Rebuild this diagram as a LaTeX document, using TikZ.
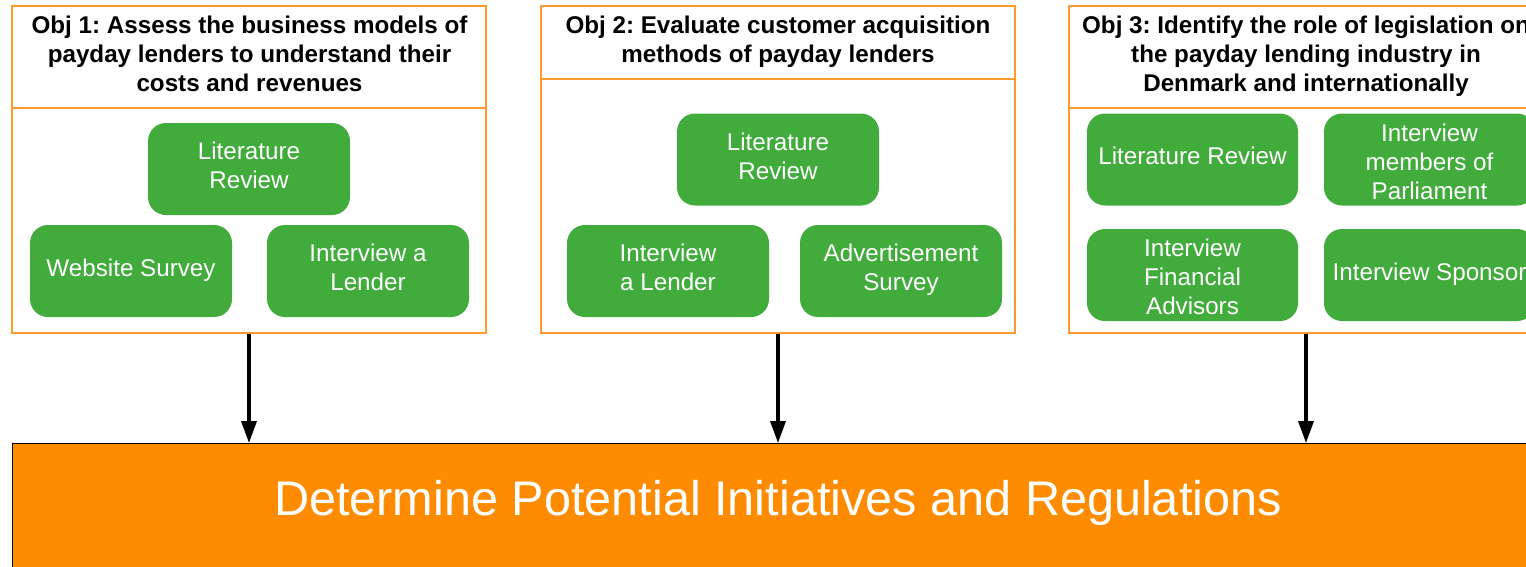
\documentclass[tikz,border=0pt]{standalone}
\usepackage{fontspec}
\setmainfont{Liberation Sans}
\frenchspacing
\usetikzlibrary{arrows.meta}
\definecolor{boxline}{HTML}{FF9A2E}
\definecolor{methodgreen}{HTML}{41AC3C}
\definecolor{goalorange}{HTML}{FF8C00}
\tikzset{
  objbox/.style={draw=boxline, line width=1.5pt, fill=white, rectangle, minimum width=474pt, minimum height=327pt, inner sep=0pt},
  objhead/.style={align=center, font=\bfseries\fontsize{24.2}{29}\selectfont, inner sep=0pt, anchor=base},
  method/.style={rectangle, rounded corners=18pt, fill=methodgreen, minimum height=92pt, inner sep=0pt},
  methodtext/.style={text=white, align=center, inner sep=0pt, anchor=base, font=\fontsize{24.2}{29}\selectfont},
  flow/.style={line width=3.5pt, -{Triangle[length=22pt,width=15pt]}},
}
\begin{document}
\begin{tikzpicture}[x=1pt,y=-1pt]
\useasboundingbox (0,0) rectangle (1526,566);
\clip (0,0) rectangle (1526,566);
% objective boxes
\node[objbox] (obj1) at (249,169.5) {};
\node[objbox] (obj2) at (778,169.5) {};
\node[objbox] (obj3) at (1306,169.5) {};
\draw[boxline, line width=1.5pt] (12,108) -- (486,108);
\draw[boxline, line width=1.5pt] (541,79) -- (1015,79);
\draw[boxline, line width=1.5pt] (1069,108) -- (1543,108);
% texts are anchored at the baseline of their last line
\node[objhead] (h1) at (249.5,91) {Obj 1: Assess the business models of\\payday lenders to understand their\\costs and revenues};
\node[objhead] (h2) at (778,62.5) {Obj 2: Evaluate customer acquisition\\methods of payday lenders};
\node[objhead] (h3) at (1306,91) {Obj 3: Identify the role of legislation on\\the payday lending industry in\\Denmark and internationally};
% methods obj1
\node[method, minimum width=202pt] (m11) at (249,169) {};
\node[method, minimum width=202pt] (m12) at (131,271) {};
\node[method, minimum width=202pt] (m13) at (368,271) {};
\node[methodtext] (m11t) at (249,188.5) {Literature\\Review};
\node[methodtext] (m12t) at (131,276) {Website Survey};
\node[methodtext] (m13t) at (368,290) {Interview a\\Lender};
% methods obj2
\node[method, minimum width=202pt] (m21) at (778,159.5) {};
\node[method, minimum width=202pt] (m22) at (668,271) {};
\node[method, minimum width=202pt] (m23) at (901,271) {};
\node[methodtext] (m21t) at (778,179.5) {Literature\\Review};
\node[methodtext] (m22t) at (668,290) {Interview\\a Lender};
\node[methodtext] (m23t) at (901,290) {Advertisement\\Survey};
% methods obj3
\node[method, minimum width=211pt] (m31) at (1192.5,159.5) {};
\node[method, minimum width=211pt] (m32) at (1429.5,159.5) {};
\node[method, minimum width=211pt] (m33) at (1192.5,275) {};
\node[method, minimum width=211pt] (m34) at (1429.5,275) {};
\node[methodtext] (m31t) at (1192.5,164.3) {Literature Review};
\node[methodtext] (m32t) at (1429.5,199) {Interview\\members of\\Parliament};
\node[methodtext] (m33t) at (1192.5,314.3) {Interview\\Financial\\Advisors};
\node[methodtext] (m34t) at (1429.5,280) {Interview Sponsor};
% goal
\node[draw=black, line width=1pt, fill=goalorange, rectangle, minimum width=1532pt, minimum height=140pt, inner sep=0pt, anchor=north west] (goal) at (12,443) {};
\node[text=white, font=\fontsize{48.6}{56}\selectfont, inner sep=0pt, anchor=base] (goaltext) at (778,515.5) {Determine Potential Initiatives and Regulations};
% arrows
\draw[flow] (obj1.south) -- (obj1.south |- goal.north);
\draw[flow] (obj2.south) -- (obj2.south |- goal.north);
\draw[flow] (obj3.south) -- (obj3.south |- goal.north);
\end{tikzpicture}
\end{document}
